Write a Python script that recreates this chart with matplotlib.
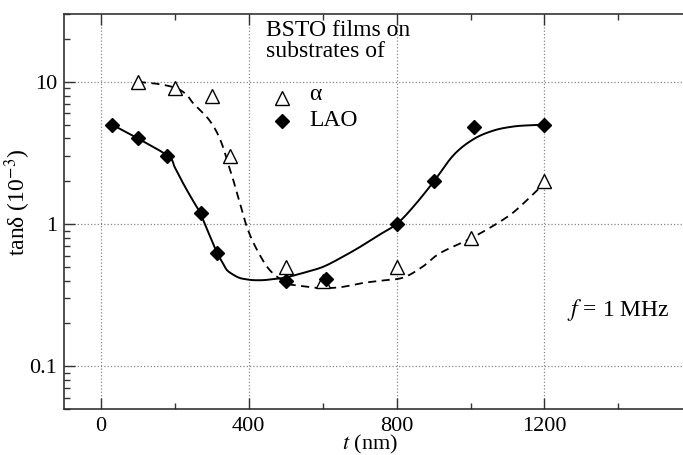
import matplotlib
matplotlib.use("Agg")
import numpy as np
import matplotlib.pyplot as plt
from matplotlib.ticker import FixedLocator, NullFormatter, LogLocator

plt.rcParams['font.family'] = ['Liberation Serif', 'DejaVu Serif']
plt.rcParams['mathtext.fontset'] = 'stix'

# Measured points
alpha_t = [100, 200, 300, 350, 500, 600, 800, 1000, 1200]
alpha_tan = [10, 9, 8, 3, 0.5, 0.4, 0.5, 0.8, 2]
lao_t = [30, 100, 180, 270, 315, 500, 610, 800, 900, 1010, 1200]
lao_tan = [5, 4, 3, 1.2, 0.63, 0.4, 0.41, 1.0, 2.0, 4.8, 5.0]

# Fitted curves
lao_fit_t = [30, 100, 182, 200, 222, 245, 268, 290, 314, 330, 341, 358, 376, 395, 412,
             440, 466, 498, 550, 601, 650, 701, 750, 800, 845, 900, 954, 1008, 1063, 1116, 1160, 1200]
lao_fit_tan = [5.0, 4.0, 3.0, 2.5, 1.94, 1.52, 1.2, 0.88, 0.63, 0.53, 0.474, 0.44, 0.417, 0.408, 0.403,
               0.403, 0.41, 0.42, 0.455, 0.50, 0.58, 0.69, 0.83, 1.0, 1.32, 1.98, 3.05, 3.95, 4.55, 4.85, 4.95, 5.0]
alpha_fit_t = [100, 150, 200, 230, 249, 276, 295, 314, 330, 341, 358, 376, 395, 422, 458, 503,
               530, 565, 601, 650, 709, 760, 818, 870, 918, 1008, 1099, 1150, 1200]
alpha_fit_tan = [10.0, 9.7, 9.1, 8.2, 7.1, 6.05, 5.3, 4.4, 3.5, 2.82, 2.04, 1.4, 0.95, 0.66, 0.47, 0.385,
                 0.37, 0.36, 0.354, 0.36, 0.385, 0.40, 0.42, 0.5, 0.625, 0.81, 1.12, 1.45, 1.94]

x_major = [0, 400, 800, 1200]
x_minor = [200, 600, 1000, 1400]
y_major = [0.1, 1, 10]
y_labels = ['0.1', '1', '10']


def smooth_path(xs, ys, n=12):
    """Catmull-Rom rendering of a drawn curve through its knots (log-y space)."""
    x = np.asarray(xs, float)
    y = np.log10(np.asarray(ys, float))
    px = np.concatenate([[2 * x[0] - x[1]], x, [2 * x[-1] - x[-2]]])
    py = np.concatenate([[2 * y[0] - y[1]], y, [2 * y[-1] - y[-2]]])
    ox, oy = [], []
    t = np.linspace(0, 1, n, endpoint=False)
    for i in range(1, len(px) - 2):
        for arr, out in ((px, ox), (py, oy)):
            p0, p1, p2, p3 = arr[i - 1], arr[i], arr[i + 1], arr[i + 2]
            out.extend(0.5 * ((2 * p1) + (-p0 + p2) * t + (2 * p0 - 5 * p1 + 4 * p2 - p3) * t ** 2
                              + (-p0 + 3 * p1 - 3 * p2 + p3) * t ** 3))
    ox.append(x[-1]); oy.append(y[-1])
    return np.array(ox), 10 ** np.array(oy)


fig = plt.figure(figsize=(6.83, 4.55), dpi=100)
ax = fig.add_axes([64/683, 1 - 409/455, 1 - 64/683, (409 - 14)/455])

ax.set_yscale('log')
ax.set_xlim(-100, 1575)
ax.set_ylim(0.05, 30)

lx, ly = smooth_path(lao_fit_t, lao_fit_tan)
axx, ayy = smooth_path(alpha_fit_t, alpha_fit_tan)
ax.plot(lx, ly, color='black', lw=1.4, solid_capstyle='round')
ax.plot(axx, ayy, color='black', lw=1.3, ls=(0, (4.5, 3)))
ax.plot(alpha_t, alpha_tan, ls='none', marker='^', ms=10, mfc='white', mec='black', mew=1.0, zorder=5)
ax.plot(lao_t, lao_tan, ls='none', marker='D', ms=7.5, mfc='black', mec='black', zorder=6)

ax.xaxis.set_major_locator(FixedLocator(x_major))
ax.xaxis.set_minor_locator(FixedLocator(x_minor))
ax.set_xticklabels([str(v) for v in x_major])
ax.yaxis.set_major_locator(FixedLocator(y_major))
ax.set_yticklabels(y_labels)
ax.yaxis.set_minor_locator(LogLocator(base=10, subs=range(2, 10)))
ax.yaxis.set_minor_formatter(NullFormatter())

ax.tick_params(axis='both', which='major', direction='in', length=8, width=1.0, labelsize=16, color='#333333')
ax.tick_params(axis='both', which='minor', direction='in', length=4.5, width=1.0, color='#333333')
ax.tick_params(axis='x', which='both', top=True, bottom=True, pad=6)
ax.tick_params(axis='y', which='both', left=True, right=False, pad=5)

for s in ['left', 'bottom', 'top']:
    ax.spines[s].set_linewidth(1.2)
    ax.spines[s].set_color('#333333')
ax.spines['right'].set_visible(False)

ax.grid(True, which='major', color='#888888', ls=':', lw=0.9)
ax.set_axisbelow(True)

ax.set_xlabel(r'$t$ (nm)', fontsize=16)
ax.xaxis.set_label_coords((370 - 64) / 619, -(433 - 409) / 395)
ax.set_ylabel('tanδ (10$^{-3}$)', fontsize=17)
ax.yaxis.set_label_coords((33 - 64) / 619, (409 - 202) / 395)

# Legend-like annotation
tr = ax.transAxes
def ax_xy(px, py):
    return ((px - 64) / (683 - 64), (409 - py) / (409 - 14))

ax.text(*ax_xy(266, 41), 'BSTO films on\nsubstrates of', transform=tr, fontsize=17,
        ha='left', va='center', linespacing=1.05)
ax.plot(*ax_xy(282, 98), transform=tr, marker='^', ms=10, mfc='white', mec='black', mew=1.0, clip_on=False)
ax.text(*ax_xy(309, 95), 'α', transform=tr, fontsize=17, ha='left', va='center')
ax.plot(*ax_xy(282, 121), transform=tr, marker='D', ms=7.5, mfc='black', mec='black', clip_on=False)
ax.text(*ax_xy(309, 121), 'LAO', transform=tr, fontsize=17, ha='left', va='center')

ax.text(*ax_xy(567, 310), r'$f$ = 1 MHz', transform=tr, fontsize=17, ha='left', va='center')

fig.savefig('out.png', dpi=100)
